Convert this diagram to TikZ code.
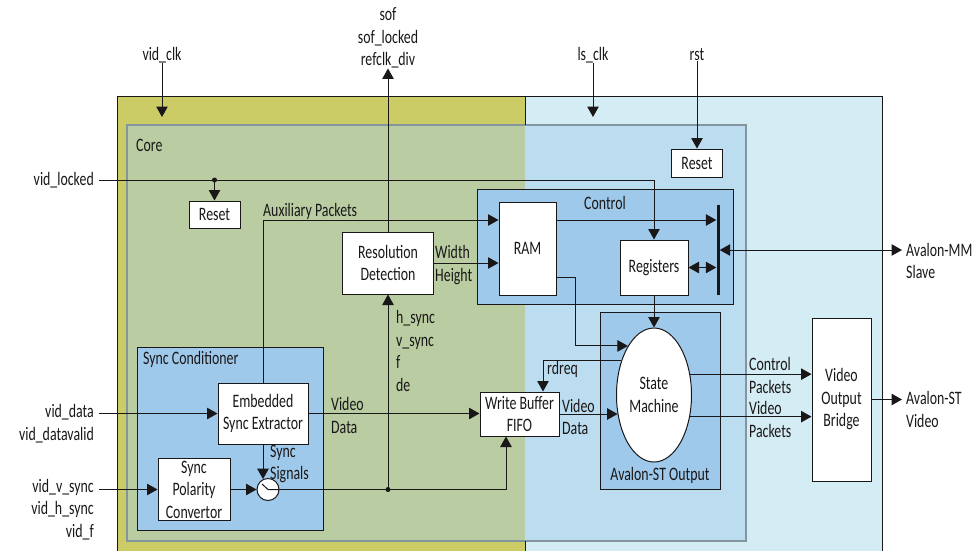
\documentclass[tikz,border=0pt]{standalone}
\usepackage{fontspec}
\setmainfont[FakeStretch=0.73]{Carlito}
\usetikzlibrary{arrows.meta, positioning, calc, shapes.geometric}
\definecolor{vyellow}{HTML}{CCCC66}
\definecolor{vgreen}{HTML}{B9CCA2}
\definecolor{lsblue}{HTML}{D4ECF3}
\definecolor{coreblue}{HTML}{BBDDEF}
\definecolor{grpblue}{HTML}{9EC9EA}
\definecolor{coregray}{HTML}{8595A0}
\definecolor{ink}{HTML}{1A1718}
\tikzset{
  >={Triangle[length=10.5pt,width=11.5pt]},
  every node/.style={font=\fontsize{19}{22.5}\selectfont, inner sep=0pt, text=ink},
  blk/.style={draw=ink, fill=white, line width=1pt, align=center},
  grp/.style={draw=ink, fill=grpblue, line width=1pt},
  lbl/.style={align=left},
  extlbl/.style={align=right, anchor=east, inner xsep=5pt},
  sig/.style={->, draw=ink, line width=1pt},
  bisig/.style={<->, draw=ink, line width=1pt},
  wire/.style={draw=ink, line width=1pt}
}

\begin{document}
\begin{tikzpicture}[x=1pt,y=-1pt]
  \useasboundingbox (0,0) rectangle (978,550);
  % clock domains and core
  \fill[vyellow] (117,96) rectangle (525,560);
  \fill[lsblue] (525,96) rectangle (882,560);
  \fill[vgreen] (127,125) rectangle (525,541);
  \fill[coreblue] (525,125) rectangle (746,541);
  \draw[coregray, line width=1.2pt] (127,125) rectangle (746,541);
  \draw[wire] (117,560) -- (117,96) -- (882,96) -- (882,560);
  \draw[wire] (525,96) -- (525,125) (525,541) -- (525,560);
  \node[anchor=west] (core) at (136,145) {Core};

  % sub blocks
  \node[grp, minimum width=256, minimum height=115] (ctrl) at (605,246.5) {};
  \node (ctrllbl) at (605,203) {Control};
  \node[grp, minimum width=186, minimum height=183] (synccond) at (230,438.5) {};
  \node[anchor=west] (synclbl) at (143,359) {Sync Conditioner};
  \node[grp, minimum width=120, minimum height=177] (avst) at (660,400.5) {};
  \node (avstlbl) at (660,475) {Avalon-ST Output};

  \node[blk, minimum width=51, minimum height=27] (rstL) at (214.5,214.5) {Reset};
  \node[blk, minimum width=51, minimum height=28] (rstR) at (697,163) {Reset};
  \node[blk, minimum width=91, minimum height=62] (resdet) at (388,263) {Resolution\\Detection};
  \node[blk, minimum width=57, minimum height=93] (ram) at (527.5,248.5) {RAM};
  \node[blk, minimum width=68, minimum height=55] (regs) at (654,267.5) {Registers};
  \node[fill=ink, minimum width=3, minimum height=90] (bus) at (718,250) {};
  \node[blk, minimum width=79, minimum height=44] (fifo) at (519.5,414) {Write Buffer\\FIFO};
  \node[blk, minimum width=90, minimum height=61] (ese) at (263,413.5) {Embedded\\Sync Extractor};
  \node[blk, minimum width=72, minimum height=62] (spc) at (194,489.5) {Sync\\Polarity\\Convertor};
  \node[blk, ellipse, minimum width=75, minimum height=134] (sm) at (654,395) {State\\Machine};
  \node[blk, minimum width=59, minimum height=163] (vob) at (841.5,399.5) {Video\\Output\\Bridge};
  \node[blk, circle, minimum size=22] (mux) at (268,489.5) {};
  \draw[wire] ($(mux.center)+(-6,-5.5)$) -- (mux.center) -- (mux.east);

  % signal names
  \node (vidclk) at (162,55) {vid\_clk};
  \node (lsclk) at (593,55) {ls\_clk};
  \node (rst) at (697,55) {rst};
  \node[align=center] (sof) at (388,38) {sof\\sof\_locked\\refclk\_div};
  \node[extlbl] (vidlocked) at (99,180) {vid\_locked};
  \node[extlbl] (viddata) at (99,423.5) {vid\_data\\vid\_datavalid};
  \node[extlbl] (vidsync) at (99,509.5) {vid\_v\_sync\\vid\_h\_sync\\vid\_f};
  \node[lbl, anchor=west] (auxlbl) at (263,211) {Auxiliary Packets};
  \node[lbl, anchor=west] (whlbl) at (435,265) {Width\\Height};
  \node[lbl, anchor=west] (synclbls) at (396,351) {h\_sync\\v\_sync\\f\\de};
  \node[lbl, anchor=west] (vd1) at (331,415.5) {Video\\Data};
  \node[lbl, anchor=west] (vd2) at (562,417) {Video\\Data};
  \node[lbl, anchor=west] (rdreq) at (547,369) {rdreq};
  \node[lbl, anchor=west] (sslbl) at (270,464) {Sync\\Signals};
  \node[lbl, anchor=west] (cplbl) at (749,375.5) {Control\\Packets};
  \node[lbl, anchor=west] (vplbl) at (749,419.5) {Video\\Packets};
  \node[lbl, anchor=west] (avmm) at (906,261) {Avalon-MM\\Slave};
  \node[lbl, anchor=west] (avstv) at (906,409.5) {Avalon-ST\\Video};
  \coordinate (mmend) at (902,250);
  \coordinate (stend) at (902,398);
  \coordinate (clkA) at (162,117);
  \coordinate (clkB) at (593,117);
  \coordinate (ramx) at (575,0);

  % connections
  \draw[sig] (vidclk) -- (clkA);
  \draw[sig] (lsclk) -- (clkB);
  \draw[sig] (rst) -- (rstR);
  \draw[sig] (resdet) -- (sof);
  \draw[sig] (vidlocked.east) -| (regs.north);
  \coordinate (lockdot) at (rstL.north |- vidlocked.east);
  \fill[ink] (lockdot) circle (2.5);
  \draw[sig] (lockdot) -- (rstL.north);
  \draw[sig] (ese.north) |- ([yshift=28.5]ram.west);
  \draw[sig] (resdet.east) -- (resdet.east -| ram.west);
  \draw[sig] ([yshift=28.5]ram.east) -- ([yshift=28.5]ram.east -| bus.west);
  \draw[bisig] (regs.east) -- (regs.east -| bus.west);
  \draw[bisig] (bus.east) -- (mmend);
  \draw[sig] ([yshift=-28.5]ram.east) -| (ramx |- sm.118) -- (sm.118);
  \draw[sig] (regs.south) -- (sm.north);
  \draw[sig] (sm.133) -| ([xshift=23.5]fifo.north);
  \draw[sig] (fifo.east) -- (fifo.east -| sm.208);
  \draw[sig] (ese.east) -- (ese.east -| fifo.west);
  \draw[sig] (viddata.east |- ese.west) -- (ese.west);
  \draw[sig] (vidsync.east |- spc.west) -- (spc.west);
  \draw[sig] (spc.east) -- (mux.west);
  \draw[sig] (ese.south) -- (ese.south |- mux.115);
  \draw[sig] (mux.east) -| ([xshift=-13.5]fifo.south);
  \coordinate (syncdot) at (resdet.south |- mux.east);
  \fill[ink] (syncdot) circle (2.5);
  \draw[sig] (syncdot) -- (resdet.south);
  \draw[sig] (sm.30) -- (sm.30 -| vob.west);
  \draw[sig] (sm.-31) -- (sm.-31 -| vob.west);
  \draw[sig] (vob.east) -- (vob.east -| stend);
\end{tikzpicture}
\end{document}
